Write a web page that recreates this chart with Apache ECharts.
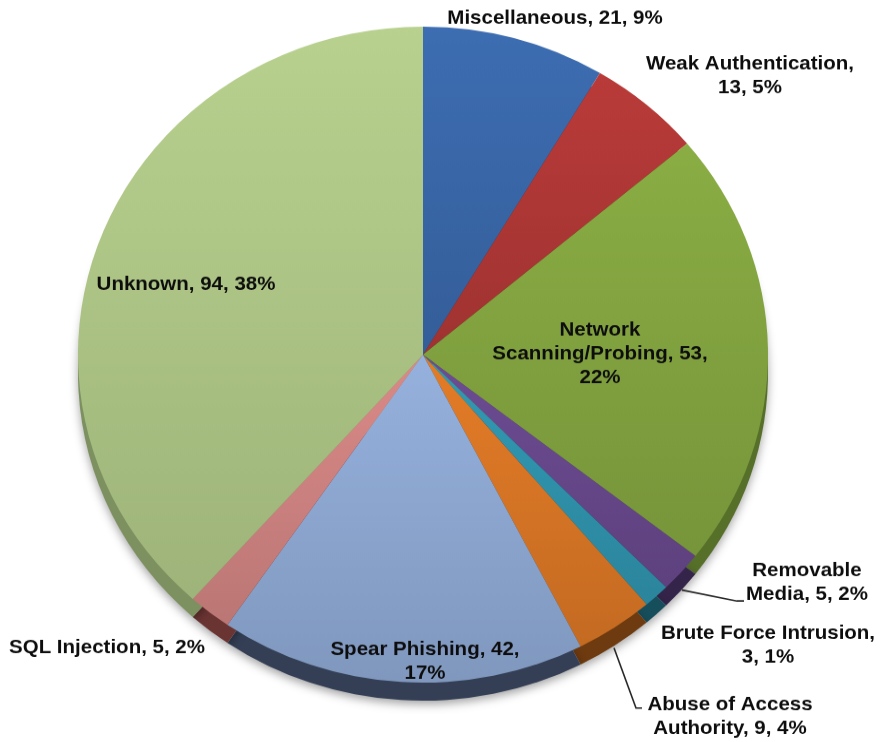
<!DOCTYPE html>
<html>
<head>
<meta charset="utf-8">
<script src="https://cdn.jsdelivr.net/npm/echarts@6/dist/echarts.min.js"></script>
<style>
  html, body { margin: 0; padding: 0; background: #ffffff; overflow: hidden; }
  #wrap { width: 883px; height: 742px; overflow: hidden; }
  /* the pie face is drawn as a circle and squeezed vertically to give a slight tilt */
  #chart { width: 883px; height: 781px; transform: scaleY(0.9507); transform-origin: 0 0; }
</style>
</head>
<body>
<div id="wrap"><div id="chart"></div></div>
<script>
// Incident categories, clockwise from 12 o'clock
const categories = [
  'Miscellaneous',
  'Weak Authentication',
  'Network Scanning/Probing',
  'Removable Media',
  'Brute Force Intrusion',
  'Abuse of Access Authority',
  'Spear Phishing',
  'SQL Injection',
  'Unknown'
];
const counts = [21, 13, 53, 5, 3, 9, 42, 5, 94];

// top-face colours and the darker side-wall colours
const faceColors = ['#3d6db2', '#b93b39', '#8aad44', '#6d4c93', '#329bb5', '#e47c27', '#95b1dd', '#da8a88', '#b8d18e'];
const rimColors  = ['#1f3a60', '#5e1d1c', '#56702a', '#35244a', '#174e5c', '#6e3a10', '#343f55', '#6a3433', '#7d9060'];

// word index after which each label wraps onto a new line
const wrapAfter = [[], [1], [0, 2], [0], [2], [2], [2], [], []];

const SY = 0.9507;            // vertical squeeze of the chart canvas
const CX = 423, CY = 373, R = 345, RIM = 19;

// label anchor points on screen (centre of the text block)
const labelPos = [
  [555, 18], [750, 76], [600, 354], [807, 583], [768, 645],
  [730, 717], [425, 662], [107, 648], [186, 285]
];
// leader lines for the two small outside slices
const leaders = {
  3: [[682, 590], [737, 601], [744, 601]],
  5: [[614, 648], [636, 708], [642, 708]]
};

const total = counts.reduce((a, b) => a + b, 0);

function labelText(i) {
  const pct = Math.round(counts[i] / total * 100);
  const words = (categories[i] + ', ' + counts[i] + ', ' + pct + '%').split(' ');
  let out = '';
  words.forEach((w, k) => {
    out += w;
    if (k < words.length - 1) out += wrapAfter[i].indexOf(k) >= 0 ? '\n' : ' ';
  });
  return out;
}

function darken(c, f) {
  const a = echarts.color.parse(c);
  return 'rgb(' + Math.round(a[0] * f) + ',' + Math.round(a[1] * f) + ',' + Math.round(a[2] * f) + ')';
}

// each slice is a little lighter at the top than at the bottom
function shade(c) {
  return {
    type: 'linear', x: 0, y: 0, x2: 0, y2: 1,
    colorStops: [
      { offset: 0, color: c },
      { offset: 1, color: darken(c, 0.86) }
    ]
  };
}

const faceData = categories.map((name, i) => ({
  name: name,
  value: counts[i],
  itemStyle: { color: shade(faceColors[i]) },
  labelLine: { show: leaders[i] !== undefined }
}));

const rimData = categories.map((name, i) => ({
  name: name,
  value: counts[i],
  itemStyle: { color: rimColors[i] }
}));

const chart = echarts.init(document.getElementById('chart'));
chart.setOption({
  animation: false,
  backgroundColor: '#ffffff',
  series: [
    {
      name: 'side',
      type: 'pie',
      silent: true,
      z: 1,
      center: [CX, CY + RIM],
      radius: R,
      startAngle: 90,
      label: { show: false },
      labelLine: { show: false },
      itemStyle: {
        borderWidth: 0,
        shadowBlur: 10,
        shadowColor: 'rgba(0,0,0,0.35)',
        shadowOffsetY: 4
      },
      data: rimData
    },
    {
      name: 'face',
      type: 'pie',
      z: 2,
      center: [CX, CY],
      radius: R,
      startAngle: 90,
      avoidLabelOverlap: false,
      itemStyle: { borderWidth: 0 },
      label: {
        show: true,
        position: 'outside',
        formatter: p => labelText(p.dataIndex),
        fontFamily: 'Liberation Sans, Arial, sans-serif',
        fontWeight: 'bold',
        fontSize: 20.5,
        lineHeight: 25,
        color: '#0d0d0d',
        align: 'center'
      },
      labelLine: {
        show: false,
        lineStyle: { color: '#262626', width: 1.6 }
      },
      labelLayout: function (p) {
        const i = p.dataIndex;
        const out = {
          x: labelPos[i][0],
          y: labelPos[i][1] / SY,
          align: 'center',
          verticalAlign: 'middle'
        };
        if (leaders[i]) {
          out.labelLinePoints = leaders[i].map(pt => [pt[0], pt[1] / SY]);
        }
        return out;
      },
      data: faceData
    }
  ]
});
</script>
</body>
</html>
